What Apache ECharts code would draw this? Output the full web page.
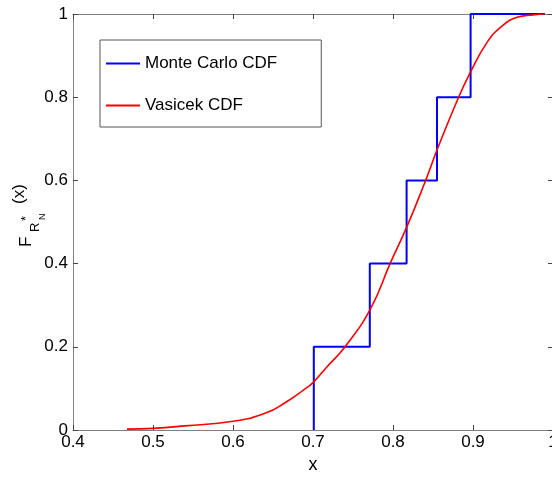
<!DOCTYPE html>
<html>
<head>
<meta charset="utf-8">
<script src="https://cdn.jsdelivr.net/npm/echarts@6/dist/echarts.min.js"></script>
<style>
  html, body { margin: 0; padding: 0; background: #fff; }
  #chart { width: 552px; height: 483px; }
</style>
</head>
<body>
<div id="chart"></div>
<script>
// Empirical (Monte Carlo) CDF: jump locations and the level held from each one
const mcX = [0.701, 0.771, 0.817, 0.855, 0.897, 0.99];
const mcF = [0.0, 0.2, 0.4, 0.6, 0.8, 1.0];

// Vasicek CDF sampled along x
const vasX = [0.4675, 0.50, 0.54, 0.60, 0.64, 0.667, 0.688, 0.70, 0.717, 0.74, 0.772, 0.797, 0.817, 0.841, 0.855, 0.882, 0.897, 0.917, 0.934, 0.955, 0.975, 0.99];
const vasF = [0.002, 0.004, 0.01, 0.021, 0.04, 0.068, 0.096, 0.114, 0.151, 0.2, 0.292, 0.403, 0.487, 0.601, 0.673, 0.8, 0.861, 0.93, 0.967, 0.992, 0.998, 1.0];

const xTicks = [0.4, 0.5, 0.6, 0.7, 0.8, 0.9, 1];
const yTicks = [0, 0.2, 0.4, 0.6, 0.8, 1];

const seriesNames = ['Monte Carlo CDF', 'Vasicek CDF'];

const FONT = '"Liberation Sans", Arial, Helvetica, sans-serif';
const AXIS_GRAY = '#7f7f7f';

const fmt = v => {
  const t = Math.round(v * 10) / 10;
  return (t === 0 || t === 1) ? String(t) : t.toFixed(1);
};

const chart = echarts.init(document.getElementById('chart'), null, { renderer: 'canvas' });

const baseAxis = {
  axisLine: { show: true, onZero: false, lineStyle: { color: AXIS_GRAY, width: 1 } },
  axisTick: { show: true, inside: true, length: 5, lineStyle: { color: '#444' } },
  splitLine: { show: false },
  axisLabel: { color: '#000', fontFamily: FONT, fontSize: 17, formatter: fmt }
};

chart.setOption({
  animation: false,
  backgroundColor: '#fff',
  grid: { left: 73, top: 14, width: 480, height: 416, containLabel: false, outerBoundsMode: 'none' },
  legend: {
    data: seriesNames,
    orient: 'vertical',
    left: 100,
    top: 40,
    padding: [15, 44, 13, 6],
    itemGap: 25,
    itemWidth: 34,
    itemHeight: 2,
    icon: 'rect',
    borderColor: '#555',
    borderWidth: 1,
    backgroundColor: '#fff',
    textStyle: { color: '#000', fontFamily: FONT, fontSize: 17 }
  },
  xAxis: [
    Object.assign({}, baseAxis, {
      type: 'value', position: 'bottom', min: 0.4, max: 1, interval: 0.1,
      name: 'x', nameLocation: 'middle', nameGap: 25,
      nameTextStyle: { color: '#000', fontFamily: FONT, fontSize: 18 },
      axisLabel: Object.assign({}, baseAxis.axisLabel, { margin: 4 })
    }),
    Object.assign({}, baseAxis, {
      type: 'value', position: 'top', min: 0.4, max: 1, interval: 0.1,
      axisLabel: { show: false }
    })
  ],
  yAxis: [
    Object.assign({}, baseAxis, {
      type: 'value', position: 'left', min: 0, max: 1, interval: 0.2,
      axisLabel: Object.assign({}, baseAxis.axisLabel, { margin: 5 })
    }),
    Object.assign({}, baseAxis, {
      type: 'value', position: 'right', min: 0, max: 1, interval: 0.2,
      axisLabel: { show: false }
    })
  ],
  series: [
    {
      name: seriesNames[0],
      type: 'line',
      step: 'start',
      symbol: 'none',
      data: mcX.map((x, i) => [x, mcF[i]]),
      lineStyle: { color: '#0000ff', width: 2 },
      itemStyle: { color: '#0000ff' },
      z: 2
    },
    {
      name: seriesNames[1],
      type: 'line',
      smooth: 0.5,
      symbol: 'none',
      data: vasX.map((x, i) => [x, vasF[i]]),
      lineStyle: { color: '#ff0000', width: 1.6 },
      itemStyle: { color: '#ff0000' },
      z: 3
    }
  ],
  graphic: [
    {
      // y-axis title: F with subscript R_N, superscript *, then (x); rotated to read upward
      type: 'group',
      x: 0,
      y: 247,
      rotation: Math.PI / 2,
      children: [
        { type: 'text', x: 0, y: 26, style: { text: 'F', font: '17px ' + FONT, fill: '#000', verticalAlign: 'middle' } },
        { type: 'text', x: 15, y: 35, style: { text: 'R', font: '13px ' + FONT, fill: '#000', verticalAlign: 'middle' } },
        { type: 'text', x: 26, y: 26, style: { text: '*', font: '13px ' + FONT, fill: '#000', verticalAlign: 'middle' } },
        { type: 'text', x: 27, y: 42.5, style: { text: 'N', font: '9px ' + FONT, fill: '#000', verticalAlign: 'middle' } },
        { type: 'text', x: 43, y: 19, style: { text: '(x)', font: '17px ' + FONT, fill: '#000', verticalAlign: 'middle' } }
      ]
    }
  ]
});
</script>
</body>
</html>
